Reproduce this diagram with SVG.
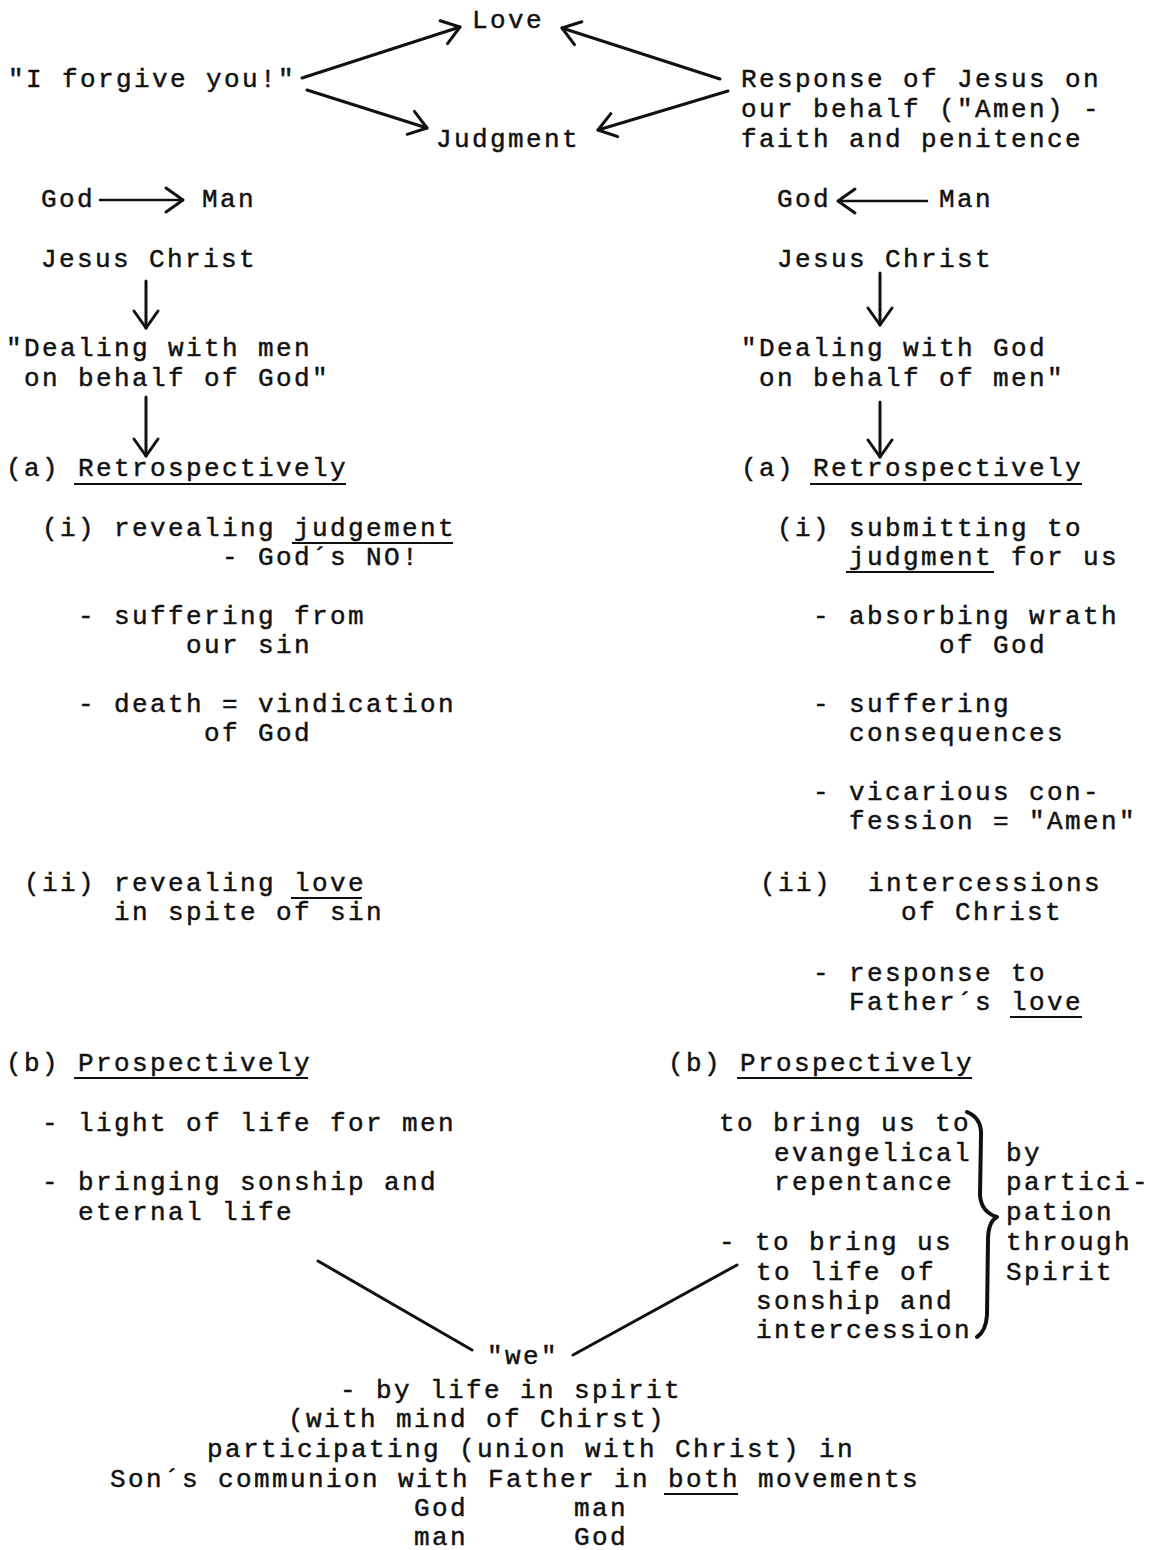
<svg xmlns="http://www.w3.org/2000/svg" width="1149" height="1550" viewBox="0 0 1149 1550">
<style>
text{font-family:"Liberation Mono","DejaVu Sans Mono",monospace;font-size:26px;letter-spacing:2.4px;fill:#111;stroke:#111;stroke-width:0.45px;white-space:pre}
.c{stroke:#111;stroke-width:3;fill:none;stroke-linecap:round;stroke-linejoin:round}
.u{stroke:#111;stroke-width:2;fill:none}
</style>
<defs>
<marker id="ah" viewBox="-3 -3 26 30" markerWidth="26" markerHeight="30" refX="17" refY="12" orient="auto" markerUnits="userSpaceOnUse">
<path d="M0,0 L17,12 L0,24" fill="none" stroke="#111" stroke-width="3" stroke-linecap="round" stroke-linejoin="round"/>
</marker>
</defs>
<rect width="1149" height="1550" fill="#fff"/>

<g id="connectors">
<line class="c" x1="302" y1="78" x2="460" y2="27" marker-end="url(#ah)"/>
<line class="c" x1="307" y1="90" x2="427" y2="128" marker-end="url(#ah)"/>
<line class="c" x1="720" y1="79" x2="562" y2="28" marker-end="url(#ah)"/>
<line class="c" x1="728" y1="91" x2="598" y2="130" marker-end="url(#ah)"/>
<line class="c" style="stroke-width:2.5" x1="100" y1="200" x2="183" y2="200" marker-end="url(#ah)"/>
<line class="c" style="stroke-width:2.5" x1="927" y1="201" x2="838" y2="201" marker-end="url(#ah)"/>
<line class="c" x1="146" y1="281" x2="146" y2="328" marker-end="url(#ah)"/>
<line class="c" x1="146" y1="397" x2="146" y2="456" marker-end="url(#ah)"/>
<line class="c" x1="880" y1="273" x2="880" y2="325" marker-end="url(#ah)"/>
<line class="c" x1="880" y1="402" x2="880" y2="457" marker-end="url(#ah)"/>
<line class="c" x1="318" y1="1261" x2="472" y2="1350"/>
<line class="c" x1="737" y1="1265" x2="573" y2="1355"/>
<path class="c" style="stroke-width:4" d="M967,1112 Q982,1118 981,1136 L980,1195 Q981,1212 997,1217 Q988,1222 988,1240 L987,1315 Q986,1331 977,1337"/>
</g>

<g id="love"><text x="472" y="28">Love</text></g>
<g id="forgive"><text x="8" y="87">"I forgive you!"</text></g>
<g id="judgment"><text x="436" y="147">Judgment</text></g>
<g id="response">
<text x="741" y="87">Response of Jesus on</text>
<text x="741" y="117">our behalf ("Amen) -</text>
<text x="741" y="147">faith and penitence</text>
</g>

<g id="godman-left"><text x="41" y="207">God</text><text x="202" y="207">Man</text></g>
<g id="godman-right"><text x="777" y="207">God</text><text x="939" y="207">Man</text></g>
<g id="jesus-left"><text x="41" y="267">Jesus Christ</text></g>
<g id="jesus-right"><text x="777" y="267">Jesus Christ</text></g>
<g id="dealing-left"><text x="6" y="356">"Dealing with men</text><text x="24" y="386">on behalf of God"</text></g>
<g id="dealing-right"><text x="741" y="356">"Dealing with God</text><text x="759" y="386">on behalf of men"</text></g>

<g id="retro-left"><text x="6" y="476">(a)</text><text x="78" y="476">Retrospectively</text><line class="u" x1="74" y1="484" x2="346" y2="484"/></g>
<g id="retro-right"><text x="741" y="476">(a)</text><text x="813" y="476">Retrospectively</text><line class="u" x1="810" y1="484" x2="1082" y2="484"/></g>

<g id="left-i">
<text x="42" y="536">(i) revealing</text><text x="294" y="536">judgement</text><line class="u" x1="292" y1="543" x2="453" y2="543"/>
<text x="222" y="565">- God´s NO!</text>
</g>
<g id="left-suffering"><text x="78" y="624">- suffering from</text><text x="186" y="653">our sin</text></g>
<g id="left-death"><text x="78" y="712">- death = vindication</text><text x="204" y="741">of God</text></g>
<g id="left-ii">
<text x="24" y="891">(ii) revealing</text><text x="294" y="891">love</text><line class="u" x1="291" y1="898" x2="362" y2="898"/>
<text x="114" y="920">in spite of sin</text>
</g>

<g id="right-i">
<text x="777" y="536">(i) submitting to</text>
<text x="849" y="565">judgment</text><text x="1011" y="565">for us</text><line class="u" x1="846" y1="572" x2="994" y2="572"/>
</g>
<g id="right-absorbing"><text x="813" y="624">- absorbing wrath</text><text x="939" y="653">of God</text></g>
<g id="right-suffering"><text x="813" y="712">- suffering</text><text x="849" y="741">consequences</text></g>
<g id="right-vicarious"><text x="813" y="800">- vicarious con-</text><text x="849" y="829">fession = "Amen"</text></g>
<g id="right-ii"><text x="760" y="891">(ii)</text><text x="868" y="891">intercessions</text><text x="901" y="920">of Christ</text></g>
<g id="right-response">
<text x="813" y="981">- response to</text>
<text x="849" y="1010">Father´s</text><text x="1011" y="1010">love</text><line class="u" x1="1010" y1="1017" x2="1082" y2="1017"/>
</g>

<g id="pros-left"><text x="6" y="1071">(b)</text><text x="78" y="1071">Prospectively</text><line class="u" x1="74" y1="1078" x2="308" y2="1078"/></g>
<g id="pros-right"><text x="668" y="1071">(b)</text><text x="740" y="1071">Prospectively</text><line class="u" x1="737" y1="1078" x2="972" y2="1078"/></g>

<g id="light"><text x="42" y="1131">- light of life for men</text></g>
<g id="bringing"><text x="42" y="1190">- bringing sonship and</text><text x="78" y="1220">eternal life</text></g>

<g id="bring-repentance"><text x="719" y="1131">to bring us to</text><text x="774" y="1161">evangelical</text><text x="774" y="1190">repentance</text></g>
<g id="bring-sonship"><text x="719" y="1250">- to bring us</text><text x="756" y="1280">to life of</text><text x="756" y="1309">sonship and</text><text x="756" y="1338">intercession</text></g>
<g id="participation">
<text x="1006" y="1161">by</text><text x="1006" y="1190">partici-</text><text x="1006" y="1220">pation</text><text x="1006" y="1250">through</text><text x="1006" y="1280">Spirit</text>
</g>

<g id="we">
<text x="487" y="1364">"we"</text>
<text x="340" y="1398">- by life in spirit</text>
<text x="288" y="1427">(with mind of Chirst)</text>
<text x="207" y="1457">participating (union with Christ) in</text>
<text x="110" y="1487">Son´s communion with Father in both movements</text>
<line class="u" x1="664" y1="1494" x2="738" y2="1494"/>
<text x="414" y="1516">God</text><text x="574" y="1516">man</text>
<text x="414" y="1545">man</text><text x="574" y="1545">God</text>
</g>
</svg>
